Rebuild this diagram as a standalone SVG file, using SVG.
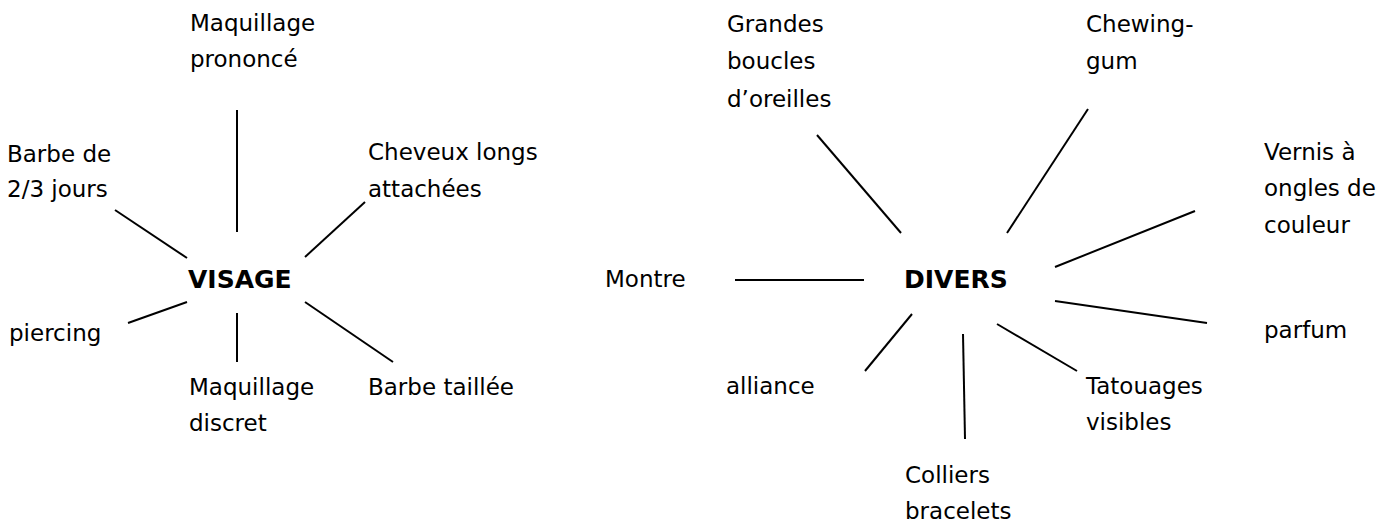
<svg xmlns="http://www.w3.org/2000/svg" width="1395" height="529" viewBox="0 0 1395 529">
<style>
text{font-family:"DejaVu Sans","Open Sans",sans-serif;font-size:23px;fill:#000}
.b{font-weight:bold;font-size:25px}
line{stroke:#000;stroke-width:2}
</style>
<rect width="1395" height="529" fill="#fff"/>
<g id="connectors">
<line x1="237" y1="110" x2="237" y2="232"/>
<line x1="115" y1="210" x2="187" y2="258"/>
<line x1="365" y1="202" x2="305" y2="257"/>
<line x1="128" y1="323" x2="187" y2="302"/>
<line x1="237" y1="313" x2="237" y2="362"/>
<line x1="305" y1="302" x2="393" y2="362"/>
<line x1="817" y1="135" x2="901" y2="233"/>
<line x1="1088" y1="109" x2="1007" y2="233"/>
<line x1="1195" y1="211" x2="1055" y2="267"/>
<line x1="735" y1="280" x2="864" y2="280"/>
<line x1="1055" y1="301" x2="1207" y2="323"/>
<line x1="912" y1="314" x2="865" y2="371"/>
<line x1="963" y1="334" x2="965" y2="439"/>
<line x1="997" y1="324" x2="1077" y2="371"/>
</g>
<g id="visage"><text class="b" x="188" y="288">VISAGE</text></g>
<g id="maquillage-prononce"><text x="190" y="31">Maquillage</text><text x="190" y="67">prononcé</text></g>
<g id="barbe-2-3"><text x="7" y="162">Barbe de</text><text x="7" y="197">2/3 jours</text></g>
<g id="cheveux"><text x="368" y="160">Cheveux longs</text><text x="368" y="197">attachées</text></g>
<g id="piercing"><text x="9" y="341">piercing</text></g>
<g id="maquillage-discret"><text x="189" y="395">Maquillage</text><text x="189" y="431">discret</text></g>
<g id="barbe-taillee"><text x="368" y="395">Barbe taillée</text></g>
<g id="divers"><text class="b" x="904" y="288">DIVERS</text></g>
<g id="grandes-boucles"><text x="727" y="32">Grandes</text><text x="727" y="69">boucles</text><text x="727" y="107">d’oreilles</text></g>
<g id="chewing-gum"><text x="1086" y="32">Chewing-</text><text x="1086" y="69">gum</text></g>
<g id="vernis"><text x="1264" y="160">Vernis à</text><text x="1264" y="196">ongles de</text><text x="1264" y="233">couleur</text></g>
<g id="montre"><text x="605" y="287">Montre</text></g>
<g id="parfum"><text x="1264" y="338">parfum</text></g>
<g id="alliance"><text x="726" y="394">alliance</text></g>
<g id="tatouages"><text x="1086" y="394">Tatouages</text><text x="1086" y="430">visibles</text></g>
<g id="colliers"><text x="905" y="483">Colliers</text><text x="905" y="519">bracelets</text></g>
</svg>
